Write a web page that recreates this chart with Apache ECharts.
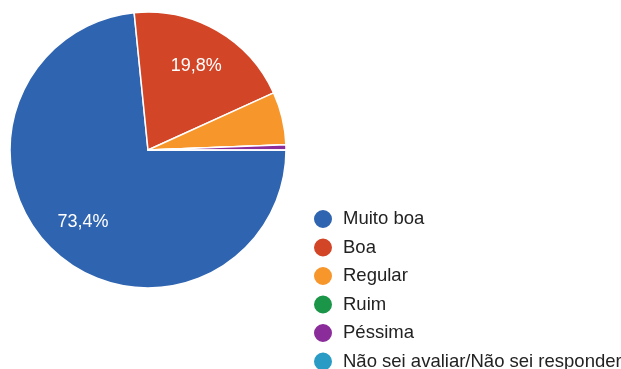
<!DOCTYPE html>
<html>
<head>
<meta charset="utf-8">
<script src="https://cdn.jsdelivr.net/npm/echarts@6/dist/echarts.min.js"></script>
<style>
  html, body { margin: 0; padding: 0; background: #fff; }
  #chart { width: 621px; height: 369px; }
</style>
</head>
<body>
<div id="chart"></div>
<script>
// Response categories and their shares (%)
const categories = ['Muito boa', 'Boa', 'Regular', 'Ruim', 'Péssima', 'Não sei avaliar/Não sei responder'];
const shares = [73.4, 19.8, 6.2, 0, 0.6, 0];
const colors = ['#2f64b0', '#d24627', '#f7962b', '#1b9648', '#8a2c9a', '#2a9bc4'];
// Slices whose percentage is printed on the pie
const labelled = ['Muito boa', 'Boa'];

const data = categories.map((name, i) => ({ name, value: shares[i] }));
const fmt = p => p.value.toFixed(1).replace('.', ',') + '%';

const chart = echarts.init(document.getElementById('chart'));
chart.setOption({
  animation: false,
  color: colors,
  legend: {
    orient: 'vertical',
    left: 307,
    top: 203,
    height: 400,
    icon: 'circle',
    itemWidth: 20,
    itemHeight: 20,
    itemGap: 6.5,
    selectedMode: false,
    textStyle: {
      fontFamily: 'Liberation Sans, Arial, sans-serif',
      fontSize: 18.5,
      color: '#222',
      padding: [0, 0, 0, 5]
    },
    data: categories
  },
  series: [
    {
      type: 'pie',
      center: [148, 150],
      radius: [0, 138],
      startAngle: 0,
      clockwise: true,
      avoidLabelOverlap: false,
      stillShowZeroSum: false,
      itemStyle: { borderColor: '#fff', borderWidth: 1.5 },
      label: { show: false },
      labelLine: { show: false },
      emphasis: { disabled: true },
      data: data
    },
    {
      // transparent ring that only carries the percentage labels
      type: 'pie',
      center: [148, 150],
      radius: [50, 138],
      startAngle: 0,
      clockwise: true,
      silent: true,
      legendHoverLink: false,
      itemStyle: { color: 'transparent', borderWidth: 0 },
      label: {
        show: true,
        position: 'inside',
        color: '#fff',
        fontFamily: 'Liberation Sans, Arial, sans-serif',
        fontSize: 18,
        formatter: p => labelled.includes(p.name) ? fmt(p) : ''
      },
      labelLine: { show: false },
      emphasis: { disabled: true },
      data: data.map(d => ({ name: d.name, value: d.value, itemStyle: { color: 'transparent' } }))
    }
  ]
});
</script>
</body>
</html>
